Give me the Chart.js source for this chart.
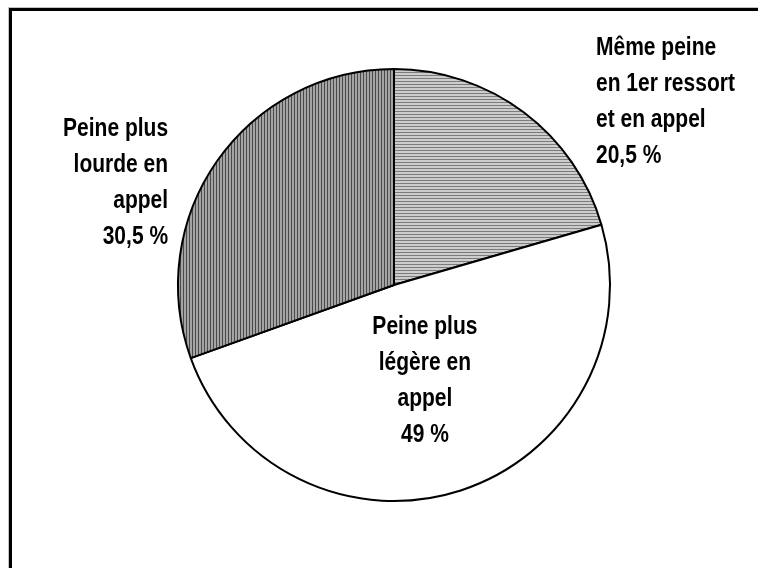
<!DOCTYPE html>
<html>
<head>
<meta charset="utf-8">
<script src="https://cdn.jsdelivr.net/npm/chart.js@4.4.1/dist/chart.umd.min.js"></script>
<style>
  html, body { margin: 0; padding: 0; background: #fff; overflow: hidden; }
  #frame { position: absolute; left: 8px; top: 7px; width: 900px; height: 700px;
           border-left: 1px solid #c4c4c4; border-top: 1px solid #c4c4c4; }
  #frame div { width: 100%; height: 100%; border-left: 3px solid #000; border-top: 3px solid #000; }
  #pie { position: absolute; left: 0; top: 0; }
</style>
</head>
<body>
<div id="frame"><div></div></div>
<canvas id="pie" width="758" height="568"></canvas>
<script>
// ===============================
// DONNEES
// ===============================
const categories = [
  'Même peine en 1er ressort et en appel',
  'Peine plus légère en appel',
  'Peine plus lourde en appel'
];
const shares = [20.5, 49, 30.5];
const labelLines = [
  ['Même peine', 'en 1er ressort', 'et en appel'],
  ['Peine plus', 'légère en', 'appel'],
  ['Peine plus', 'lourde en', 'appel']
];

// placement des étiquettes (en rayons depuis le centre) et alignement
const labelPos = [
  { dx: 0.935, dy: -1.097, align: 'left' },
  { dx: 0.143, dy: 0.194, align: 'center' },
  { dx: -1.046, dy: -0.724, align: 'right' }
];

// ===============================
// MOTIFS
// ===============================
function stripes(horizontal, dark, light) {
  const c = document.createElement('canvas');
  c.width = horizontal ? 4 : 3;
  c.height = horizontal ? 3 : 4;
  const g = c.getContext('2d');
  g.fillStyle = light;
  g.fillRect(0, 0, c.width, c.height);
  g.fillStyle = dark;
  if (horizontal) g.fillRect(0, 0, c.width, 1);
  else g.fillRect(0, 0, 1, c.height);
  return g.createPattern(c, 'repeat');
}

const fills = [
  stripes(true, '#7c7c7c', '#cdcdcd'),
  '#ffffff',
  stripes(false, '#4a4a4a', '#a4a4a4')
];

const fmt = v => String(v).replace('.', ',') + ' %';

const labelPlugin = {
  id: 'sliceLabels',
  afterDraw(chart) {
    const ctx = chart.ctx;
    const arcs = chart.getDatasetMeta(0).data;
    ctx.save();
    ctx.fillStyle = '#000';
    ctx.font = 'bold 21px "Liberation Sans", Arial, sans-serif';
    ctx.textBaseline = 'middle';
    arcs.forEach((arc, i) => {
      const p = labelPos[i];
      const x = arc.x + p.dx * arc.outerRadius;
      let y = arc.y + p.dy * arc.outerRadius;
      ctx.textAlign = p.align;
      const lines = labelLines[i].concat([fmt(shares[i])]);
      lines.forEach(t => {
        // texte un peu étiré en hauteur, comme l'original
        ctx.save();
        ctx.translate(x, y);
        ctx.scale(1, 1.22);
        ctx.fillText(t, 0, 0);
        ctx.restore();
        y += 36;
      });
    });
    ctx.restore();
  }
};

new Chart(document.getElementById('pie'), {
  type: 'pie',
  data: {
    labels: categories,
    datasets: [{
      data: shares,
      backgroundColor: fills,
      borderColor: '#000',
      borderWidth: 2,
      hoverOffset: 0
    }]
  },
  options: {
    responsive: false,
    animation: false,
    layout: { padding: { left: 177, right: 147, top: 68, bottom: 66 } },
    plugins: {
      legend: { display: false },
      tooltip: { enabled: false }
    }
  },
  plugins: [labelPlugin]
});
</script>
</body>
</html>
